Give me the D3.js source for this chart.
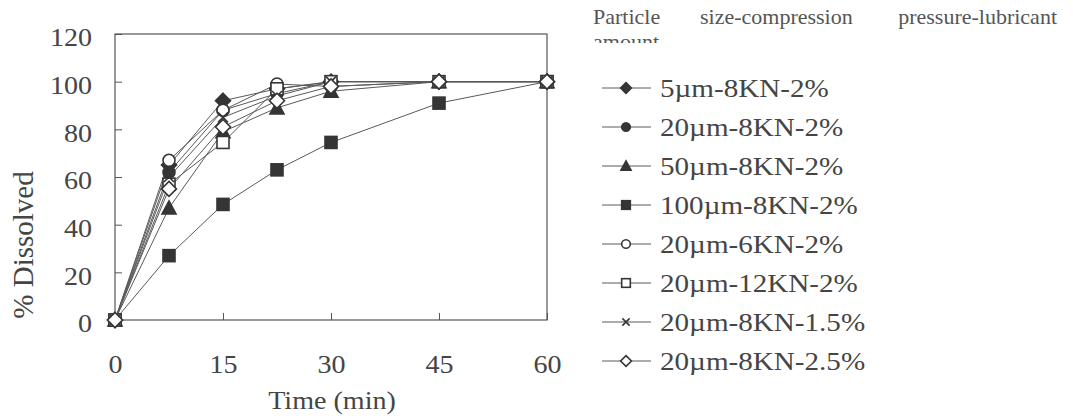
<!DOCTYPE html>
<html>
<head>
<meta charset="UTF-8">
<script src="https://d3js.org/d3.v7.min.js"></script>
<style>
  body {margin:0; background:#fff;}
</style>
</head>
<body>
<svg id="chart" width="1073" height="420"></svg>
<script>
// sampling times (min)
var times = [0, 7.5, 15, 22.5, 30, 45, 60];
var xTicks = [0, 15, 30, 45, 60];
var yTicks = [0, 20, 40, 60, 80, 100, 120];

var labels = ["5\u00b5m-8KN-2%", "20\u00b5m-8KN-2%", "50\u00b5m-8KN-2%", "100\u00b5m-8KN-2%",
              "20\u00b5m-6KN-2%", "20\u00b5m-12KN-2%", "20\u00b5m-8KN-1.5%", "20\u00b5m-8KN-2.5%"];
var markers = ["diamond", "circle", "triangle", "square", "circleOpen", "squareOpen", "cross", "diamondOpen"];

var s5um   = [0, 65, 92, 97, 100, 100, 100];
var s20um  = [0, 62, 88, 95, 100, 100, 100];
var s50um  = [0, 47, 79, 89, 96, 100, 100];
var s100um = [0, 27, 48.5, 63, 74.5, 91, 100];
var s6kn   = [0, 67, 88, 99, 98, 100, 100];
var s12kn  = [0, 57, 74.5, 97, 100, 100, 100];
var s15lub = [0, 60, 85, 94, 100, 100, 100];
var s25lub = [0, 55, 81, 92, 98, 100, 100];
var series = [s5um, s20um, s50um, s100um, s6kn, s12kn, s15lub, s25lub];

var svg = d3.select("#chart");
var x = d3.scaleLinear().domain([0, 60]).range([115, 547]);
var y = d3.scaleLinear().domain([0, 120]).range([320, 34]);
var ink = "#353535", txt = "#454545", font = "Liberation Serif";
var sx = 1.08; // the source picture is a little wider than tall

// frame
svg.append("rect").attr("x", x(0)).attr("y", y(120))
    .attr("width", x(60) - x(0)).attr("height", y(0) - y(120))
    .attr("fill", "none").attr("stroke", "#555").attr("stroke-width", 1.2);

// axes, ticks pointing inside
var yAxis = svg.append("g").attr("transform", "translate(" + x(0) + ",0)")
    .call(d3.axisLeft(y).tickValues(yTicks).tickSize(-7));
var xAxis = svg.append("g").attr("transform", "translate(0," + y(0) + ")")
    .call(d3.axisBottom(x).tickValues(xTicks).tickSize(-7));
[xAxis, yAxis].forEach(function(a){
    a.select(".domain").remove();
    a.selectAll("line").attr("stroke", "#555");
    a.selectAll("text").attr("font-family", font).attr("font-size", 26).attr("fill", txt)
        .attr("transform", "scale(" + sx + ",1)");
});
xAxis.selectAll("text").attr("y", 53).attr("dy", 0);
yAxis.selectAll("text").attr("x", -23 / sx).attr("y", 3).attr("dy", "0.34em");

svg.append("text").attr("transform", "translate(332,409) scale(" + sx + ",1)").attr("text-anchor", "middle")
    .attr("font-family", font).attr("font-size", 26).attr("fill", txt).text("Time (min)");
svg.append("text").attr("transform", "translate(33,245) rotate(-90)")
    .attr("text-anchor", "middle").attr("font-family", font).attr("font-size", 29).attr("fill", txt).text("% Dissolved");

function drawMarker(g, type, cx, cy, k) {
    var filled = ["diamond", "circle", "triangle", "square"].indexOf(type) >= 0;
    var fill = filled ? ink : "#fff";
    var el;
    if (type === "diamond" || type === "diamondOpen") {
        var r = 7.5 * k;
        el = g.append("path").attr("d", "M" + cx + "," + (cy - r) + "L" + (cx + r) + "," + cy + "L" + cx + "," + (cy + r) + "L" + (cx - r) + "," + cy + "Z");
    } else if (type === "circle" || type === "circleOpen") {
        el = g.append("circle").attr("cx", cx).attr("cy", cy).attr("r", 6 * k);
    } else if (type === "square" || type === "squareOpen") {
        el = g.append("rect").attr("x", cx - 6 * k).attr("y", cy - 6 * k).attr("width", 12 * k).attr("height", 12 * k);
    } else if (type === "triangle") {
        el = g.append("path").attr("d", "M" + cx + "," + (cy - 7 * k) + "L" + (cx + 7 * k) + "," + (cy + 6 * k) + "L" + (cx - 7 * k) + "," + (cy + 6 * k) + "Z");
    } else {
        var c = 5 * k;
        el = g.append("path").attr("d", "M" + (cx - c) + "," + (cy - c) + "L" + (cx + c) + "," + (cy + c) + "M" + (cx + c) + "," + (cy - c) + "L" + (cx - c) + "," + (cy + c));
        fill = "none";
    }
    el.attr("fill", fill).attr("stroke", ink).attr("stroke-width", 1.6);
}

var line = d3.line().x(function(d, i){ return x(times[i]); }).y(function(d){ return y(d); });
var plot = svg.append("g");
series.forEach(function(s){
    plot.append("path").datum(s).attr("d", line).attr("fill", "none").attr("stroke", "#5a5a5a").attr("stroke-width", 1);
});
series.forEach(function(s, si){
    s.forEach(function(v, i){ drawMarker(plot, markers[si], x(times[i]), y(v), 1); });
});

// legend
var leg = svg.append("g");
labels.forEach(function(l, i){
    var ly = 88 + i * 39;
    leg.append("line").attr("x1", 602).attr("x2", 651).attr("y1", ly).attr("y2", ly).attr("stroke", "#5a5a5a").attr("stroke-width", 1);
    drawMarker(leg, markers[i], 626, ly, 0.72);
    leg.append("text").attr("transform", "translate(660," + (ly + 9) + ") scale(1.12,1)")
        .attr("font-family", font).attr("font-size", 26).attr("fill", txt).text(l);
});

// legend title, its second line is cut off as in the source
svg.append("clipPath").attr("id", "clipTitle").append("rect").attr("x", 580).attr("y", 0).attr("width", 493).attr("height", 43);
var title = svg.append("g").attr("clip-path", "url(#clipTitle)")
    .attr("font-family", font).attr("font-size", 22).attr("fill", "#555");
title.append("text").attr("x", 593).attr("y", 24).text("Particle");
title.append("text").attr("x", 700).attr("y", 24).text("size-compression");
title.append("text").attr("x", 1057).attr("y", 24).attr("text-anchor", "end").text("pressure-lubricant");
title.append("text").attr("x", 593).attr("y", 49).text("amount");
</script>
</body>
</html>
